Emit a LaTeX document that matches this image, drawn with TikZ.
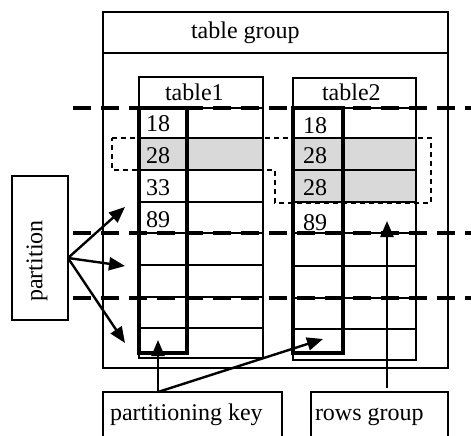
\documentclass[tikz,border=0pt]{standalone}
\usepackage{fontspec}
\setmainfont{Liberation Serif}
\usetikzlibrary{arrows.meta}
\definecolor{rowgray}{RGB}{217,217,217}

\begin{document}
\begin{tikzpicture}[x=1pt,y=-1pt,
  thinline/.style={line width=1.8pt},
  keycol/.style={line width=3.2pt},
  rowline/.style={line width=2.4pt},
  partline/.style={line width=3.2pt, dash pattern=on 18pt off 10pt},
  groupline/.style={line width=1.3pt, dash pattern=on 5pt off 4pt},
  pointer/.style={line width=2.4pt, -{Triangle[length=16pt,width=13pt]}},
  lbl/.style={font=\fontsize{24}{28}\selectfont, inner sep=0pt, outer sep=0pt, anchor=base west},
  box/.style={draw, line width=1.8pt, inner sep=0pt, outer sep=0pt, anchor=north west},
]
\useasboundingbox (0,0) rectangle (471,436);

% highlighted rows
\fill[rowgray] (139,138) rectangle (263,170);
\fill[rowgray] (293,138) rectangle (416,202);

% table group frame
\node[box, minimum width=345pt, minimum height=356pt] (tg) at (103,12) {};
\draw[thinline] (103,53) -- (448,53);
\node[lbl] (tgname) at (191,39) {table group};

% rows group outline (dashed)
\draw[groupline] (112,138) -- (431,138) -- (431,203) -- (275,203) -- (275,170) -- (112,170) -- cycle;

% table1
\draw[thinline] (139,77) rectangle (263,358);
\foreach \y in {108,138,170,202,233,265,297,328}
  \draw[rowline] (139,\y) -- (263,\y);
\draw[keycol] (139,108) rectangle (187,353);
\node[lbl] (t1name) at (165,100) {table1};
\node[lbl] (t1a) at (146,131) {18};
\node[lbl] (t1b) at (146,163) {28};
\node[lbl] (t1c) at (146,195) {33};
\node[lbl] (t1d) at (146,227) {89};

% table2
\draw[thinline] (293,78) rectangle (416,360);
\foreach \y in {108,138,170,202,233,266,298,329}
  \draw[rowline] (293,\y) -- (416,\y);
\draw[keycol] (293,108) rectangle (343,353);
\node[lbl] (t2name) at (322,100) {table2};
\node[lbl] (t2a) at (303,133) {18};
\node[lbl] (t2b) at (303,163) {28};
\node[lbl] (t2c) at (303,195) {28};
\node[lbl] (t2d) at (303,230) {89};

% partition boundaries
\foreach \y in {108,233,298}
  \draw[partline] (73,\y) -- (471,\y);

% partition label box
\node[box, minimum width=56pt, minimum height=144pt] (part) at (12,176) {};
\node[font=\fontsize{24}{28}\selectfont, inner sep=0pt, rotate=90] (partname) at (37,261) {partition};

% bottom label boxes, running off the lower edge
\begin{scope}
\clip (0,0) rectangle (471,436);
\node[box, minimum width=179pt, minimum height=60pt] (pkey) at (103,392) {};
\node[box, minimum width=137pt, minimum height=60pt] (rgrp) at (311,392) {};
\end{scope}
\node[lbl] (pkeyname) at (110,420) {partitioning key};
\node[lbl] (rgrpname) at (315,420) {rows group};

% connector ends
\coordinate (pout) at (68,258);
\coordinate (p1) at (125,207);
\coordinate (p2) at (125,266);
\coordinate (p3) at (125,343);
\coordinate (kout) at (158,392);
\coordinate (k1) at (158,340);
\coordinate (k2) at (323,339);
\coordinate (rout) at (387,388);
\coordinate (r1) at (387,221);

\draw[pointer] (pout) -- (p1);
\draw[pointer] (pout) -- (p2);
\draw[pointer] (pout) -- (p3);
\draw[pointer] (kout) -- (k1);
\draw[pointer] (kout) -- (k2);
\draw[pointer] (rout) -- (r1);
\end{tikzpicture}
\end{document}
